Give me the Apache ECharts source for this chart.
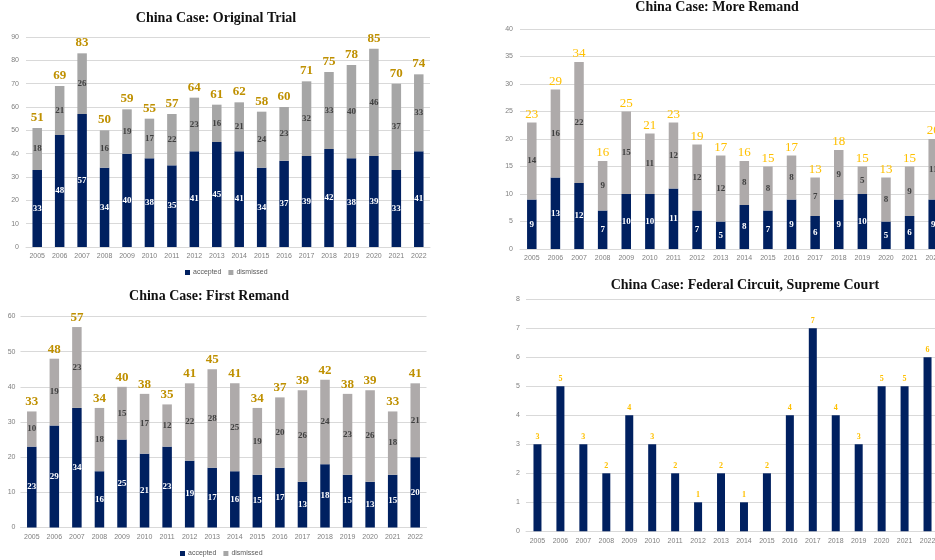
<!DOCTYPE html>
<html>
<head>
<meta charset="utf-8">
<title>China Case</title>
<script src="https://cdn.jsdelivr.net/npm/echarts@6/dist/echarts.min.js"></script>
<style>
  html, body { margin: 0; padding: 0; overflow: hidden; background: #fff; }
  #chart { width: 960px; height: 560px; }
</style>
</head>
<body>
<div id="chart"></div>
<script>
// Case counts per year for the four court stages
const years = ['2005', '2006', '2007', '2008', '2009', '2010', '2011', '2012', '2013',
  '2014', '2015', '2016', '2017', '2018', '2019', '2020', '2021', '2022'];

const trialAccepted  = [33, 48, 57, 34, 40, 38, 35, 41, 45, 41, 34, 37, 39, 42, 38, 39, 33, 41];
const trialDismissed = [18, 21, 26, 16, 19, 17, 22, 23, 16, 21, 24, 23, 32, 33, 40, 46, 37, 33];

const moreAccepted  = [9, 13, 12, 7, 10, 10, 11, 7, 5, 8, 7, 9, 6, 9, 10, 5, 6, 9];
const moreDismissed = [14, 16, 22, 9, 15, 11, 12, 12, 12, 8, 8, 8, 7, 9, 5, 8, 9, 11];

const firstAccepted  = [23, 29, 34, 16, 25, 21, 23, 19, 17, 16, 15, 17, 13, 18, 15, 13, 15, 20];
const firstDismissed = [10, 19, 23, 18, 15, 17, 12, 22, 28, 25, 19, 20, 26, 24, 23, 26, 18, 21];

const federalCases = [3, 5, 3, 2, 4, 3, 2, 1, 2, 1, 2, 4, 7, 4, 3, 5, 5, 6];

const NAVY = '#002060';
const SERIF = '"Liberation Serif", "Times New Roman", serif';
const SANS = '"Liberation Sans", Arial, sans-serif';

const sumOf = (a, b) => a.map((v, i) => v + b[i]);

const grids = [
  { left: 26,  top: 37,  width: 404, height: 210 },   // Original Trial
  { left: 520, top: 29,  width: 425, height: 220 },   // More Remand
  { left: 20.5, top: 316.5, width: 406, height: 211 }, // First Remand
  { left: 526, top: 299.3, width: 413, height: 232 }  // Federal Circuit
].map(g => Object.assign({ outerBoundsMode: 'none', containLabel: false }, g));

function xAxisFor(i, margin) {
  return {
    type: 'category', gridIndex: i, data: years,
    axisTick: { show: false },
    axisLine: { lineStyle: { color: '#d9d9d9', width: 1 } },
    axisLabel: { color: '#7f7f7f', fontSize: 7, fontFamily: SANS, margin: margin, interval: 0 }
  };
}
function yAxisFor(i, max, interval, margin) {
  return {
    type: 'value', gridIndex: i, min: 0, max: max, interval: interval,
    axisLine: { show: false }, axisTick: { show: false },
    splitLine: { lineStyle: { color: '#d9d9d9', width: 1 } },
    axisLabel: { color: '#7f7f7f', fontSize: 7, fontFamily: SANS, margin: margin }
  };
}

function stacked(i, accepted, dismissed, cfg) {
  const totals = sumOf(accepted, dismissed);
  const inner = (color) => ({
    show: true, position: 'inside', color: color,
    fontFamily: SERIF, fontWeight: 'bold', fontSize: 9
  });
  return [
    {
      name: 'accepted', type: 'bar', xAxisIndex: i, yAxisIndex: i, stack: 's' + i,
      data: accepted, barWidth: cfg.barWidth, barGap: '-100%',
      itemStyle: { color: NAVY }, label: inner('#ffffff')
    },
    {
      name: 'dismissed', type: 'bar', xAxisIndex: i, yAxisIndex: i, stack: 's' + i,
      data: dismissed, barWidth: cfg.barWidth, barGap: '-100%',
      itemStyle: { color: cfg.grey }, label: inner('#404040')
    },
    {
      name: 'total', type: 'bar', xAxisIndex: i, yAxisIndex: i,
      data: totals, barWidth: cfg.barWidth, barGap: '-100%', silent: true,
      itemStyle: { color: 'rgba(0,0,0,0)' },
      label: {
        show: true, position: 'top', distance: cfg.dist, color: cfg.totalColor,
        fontFamily: SERIF, fontWeight: cfg.totalWeight, fontSize: cfg.totalSize
      }
    }
  ];
}

const titleStyle = { fontFamily: SERIF, fontWeight: 'bold', fontSize: 14, color: '#111' };
const mkTitle = (text, x, y) => ({
  text: text, left: x, top: y - 8, textAlign: 'center', padding: 0, textStyle: titleStyle
});

const legendBase = {
  data: ['accepted', 'dismissed'], orient: 'horizontal',
  icon: 'rect', itemWidth: 5, itemHeight: 5, itemGap: 7,
  textStyle: { fontSize: 7, color: '#595959', fontFamily: SANS, padding: [0, 0, 0, -2] },
  padding: 0
};

const option = {
  animation: false,
  backgroundColor: '#ffffff',
  title: [
    mkTitle('China Case: Original Trial', 216, 19),
    mkTitle('China Case: More Remand', 717, 8),
    mkTitle('China Case: First Remand', 209, 297),
    mkTitle('China Case: Federal Circuit, Supreme Court', 745, 286)
  ],
  legend: [
    Object.assign({}, legendBase, { left: 185, top: 269 }),
    Object.assign({}, legendBase, { left: 180, top: 550 })
  ],
  grid: grids,
  xAxis: [xAxisFor(0, 6), xAxisFor(1, 6), xAxisFor(2, 6), xAxisFor(3, 6.5)],
  yAxis: [yAxisFor(0, 90, 10, 7), yAxisFor(1, 40, 5, 7), yAxisFor(2, 60, 10, 5), yAxisFor(3, 8, 1, 6)],
  series: [].concat(
    stacked(0, trialAccepted, trialDismissed,
      { barWidth: 9.5, grey: '#a6a6a6', totalColor: '#bf9000', totalWeight: 'bold', totalSize: 13, dist: 4 }),
    stacked(1, moreAccepted, moreDismissed,
      { barWidth: 9.5, grey: '#aeaaaa', totalColor: '#ffc000', totalWeight: 'normal', totalSize: 13, dist: 1.5 }),
    stacked(2, firstAccepted, firstDismissed,
      { barWidth: 9.5, grey: '#aeaaaa', totalColor: '#bf9000', totalWeight: 'bold', totalSize: 13, dist: 3 }),
    [{
      name: 'cases', type: 'bar', xAxisIndex: 3, yAxisIndex: 3,
      data: federalCases, barWidth: 8,
      itemStyle: { color: NAVY },
      label: {
        show: true, position: 'top', distance: 3, color: '#ffc000',
        fontFamily: SERIF, fontWeight: 'bold', fontSize: 8
      }
    }]
  )
};

const chart = echarts.init(document.getElementById('chart'), null, { renderer: 'canvas' });
chart.setOption(option);
</script>
</body>
</html>
